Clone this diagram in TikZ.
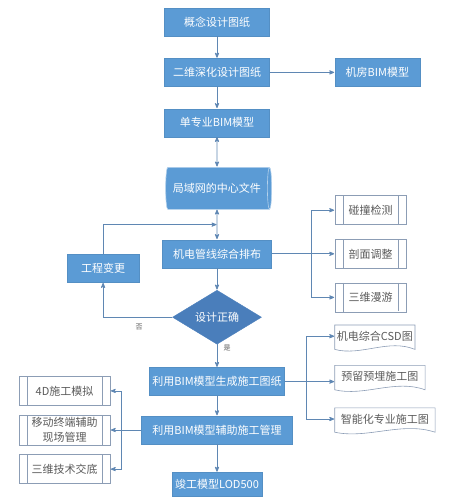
\documentclass[tikz,border=0pt]{standalone}
\usepackage{fontspec}
\setmainfont{Noto Sans CJK SC}
\usepackage{tikz}
\usetikzlibrary{arrows}
\usetikzlibrary{positioning}
\usetikzlibrary{shapes.geometric}
\usetikzlibrary{calc}

\definecolor{bimblue}{HTML}{5B9BD5}
\definecolor{bimdark}{HTML}{4A7EBB}
\definecolor{linkblue}{HTML}{5F87B3}
\definecolor{subline}{HTML}{8C9DB5}
\definecolor{textgray}{HTML}{5A5A5A}

\begin{document}
\begin{tikzpicture}[x=1pt,y=-1pt,->,>=stealth',shorten >=0.5pt,auto,node distance=22pt,
  main box/.style={rectangle,fill=bimblue,draw=bimblue!92!black,line width=0.4pt,text=white,
    minimum height=28pt,inner sep=2pt,font=\fontsize{11}{13}\selectfont},
  data file/.style={cylinder,shape aspect=0.3,fill=bimblue,draw=white!55!bimblue,line width=0.6pt,
    text=white,minimum width=42pt,minimum height=106pt,inner sep=2pt,font=\fontsize{11}{13}\selectfont},
  check/.style={diamond,shape aspect=1.65,fill=bimdark,draw=bimdark,text=white,
    minimum width=89pt,minimum height=54pt,inner sep=0pt,font=\fontsize{11}{13}\selectfont},
  sub box/.style={rectangle,fill=white,draw=subline,line width=0.6pt,text=textgray,
    minimum width=71pt,minimum height=29pt,inner sep=2pt,font=\fontsize{11}{15}\selectfont,
    path picture={\draw[subline,line width=0.6pt,-]
      ([xshift=8pt]path picture bounding box.north west) -- ([xshift=8pt]path picture bounding box.south west)
      ([xshift=-8pt]path picture bounding box.north east) -- ([xshift=-8pt]path picture bounding box.south east);}},
  doc box/.style={rectangle,text=textgray,minimum height=22pt,inner sep=2pt,font=\fontsize{11}{13}\selectfont,
    append after command={\pgfextra{\let\docnode=\tikzlastnode
      \draw[subline,line width=0.6pt,-] (\docnode.north west) -- (\docnode.north east)
      -- ([yshift=-2pt]\docnode.south east)
      .. controls ($(\docnode.south east)!0.33!(\docnode.south west)+(0,9pt)$)
         and ($(\docnode.south east)!0.67!(\docnode.south west)+(0,-9pt)$) ..
      ([yshift=-2pt]\docnode.south west) -- cycle;}}},
  link/.style={draw=linkblue,line width=0.8pt},
  tag/.style={font=\fontsize{7}{8}\selectfont,text=textgray}]

  \useasboundingbox (0,0) rectangle (452,500);

  % main column
  \node[main box,minimum width=105pt] (concept) at (217,22) {概念设计图纸};
  \node[main box,minimum width=105pt] (deepen) [below=22pt of concept] {二维深化设计图纸};
  \node[main box,minimum width=85pt] (room) [right=65pt of deepen] {机房BIM模型};
  \node[main box,minimum width=105pt] (single) [below=22pt of deepen] {单专业BIM模型};
  \node[data file] (central) [below=30pt of single] {局域网的中心文件};
  \node[main box,minimum width=109pt] (mep) [below=30pt of central] {机电管线综合排布};
  \node[main box,minimum width=72pt] (change) [below left=-14pt and 23pt of mep] {工程变更};
  \node[check] (correct) [below=22pt of mep] {设计正确};
  \node[main box,minimum width=135pt] (drawings) [below=23pt of correct] {利用BIM模型生成施工图纸};
  \node[main box,minimum width=151pt] (manage) [below=20pt of drawings] {利用BIM模型辅助施工管理};
  \node[main box,minimum width=90pt,minimum height=24pt] (final) [below=28pt of manage] {竣工模型LOD500};

  % checks after the layout
  \node[sub box] (cut) [right=63pt of mep] {剖面调整};
  \node[sub box] (clash) [above=14pt of cut] {碰撞检测};
  \node[sub box] (tour) [below=14pt of cut] {三维漫游};

  % drawing documents
  \node[doc box,minimum width=90pt] (embed) [right=50pt of drawings,yshift=5pt] {预留预埋施工图};
  \node[doc box,minimum width=77pt] (csd) [above right=18pt and 0pt of embed.north west] {机电综合CSD图};
  \node[doc box,minimum width=100pt] (smart) [below right=20pt and 0pt of embed.south west] {智能化专业施工图};

  % site use
  \node[sub box,minimum width=91pt,minimum height=30pt,inner sep=1pt,align=center] (mobile) [left=31pt of manage] {移动终端辅助\\现场管理};
  \node[sub box,minimum width=91pt] (sim) [above=9pt of mobile] {4D施工模拟};
  \node[sub box,minimum width=91pt] (brief) [below=9pt of mobile] {三维技术交底};

  \draw[link] (concept) -- (deepen);
  \draw[link] (deepen) -- (room);
  \draw[link] (deepen) -- (single);
  \draw[link,<->] (single) -- (central);
  \draw[link,<->] (central) -- (mep);
  \draw[link] (mep) -- (correct);
  \draw[link] (correct) -- node[tag,pos=0.15,right=3pt] {是} (drawings);
  \draw[link] (drawings) -- (manage);
  \draw[link] (manage) -- (final);

  % loop back
  \coordinate (merge) at ($(central.south)!0.5!(mep.north)$);
  \draw[link] (correct) -| node[tag,pos=0.24,below=3pt] {否} (change);
  \draw[link] (change) |- (merge);

  \coordinate (rsplit) at ($(mep.east)+(40pt,0)$);
  \draw[link] (mep) -- (cut);
  \draw[link] (rsplit) |- (clash);
  \draw[link] (rsplit) |- (tour);

  \coordinate (dsplit) at ($(drawings.east)+(22pt,0)$);
  \draw[link] (drawings.east) -- (drawings.east -| embed.west);
  \draw[link] (dsplit) |- (csd);
  \draw[link] (dsplit) |- (smart);

  \coordinate (lsplit) at ($(manage.west)+(-20pt,0)$);
  \draw[link] (manage) -- (mobile);
  \draw[link] (lsplit) |- (sim);
  \draw[link] (lsplit) |- (brief);
\end{tikzpicture}
\end{document}
